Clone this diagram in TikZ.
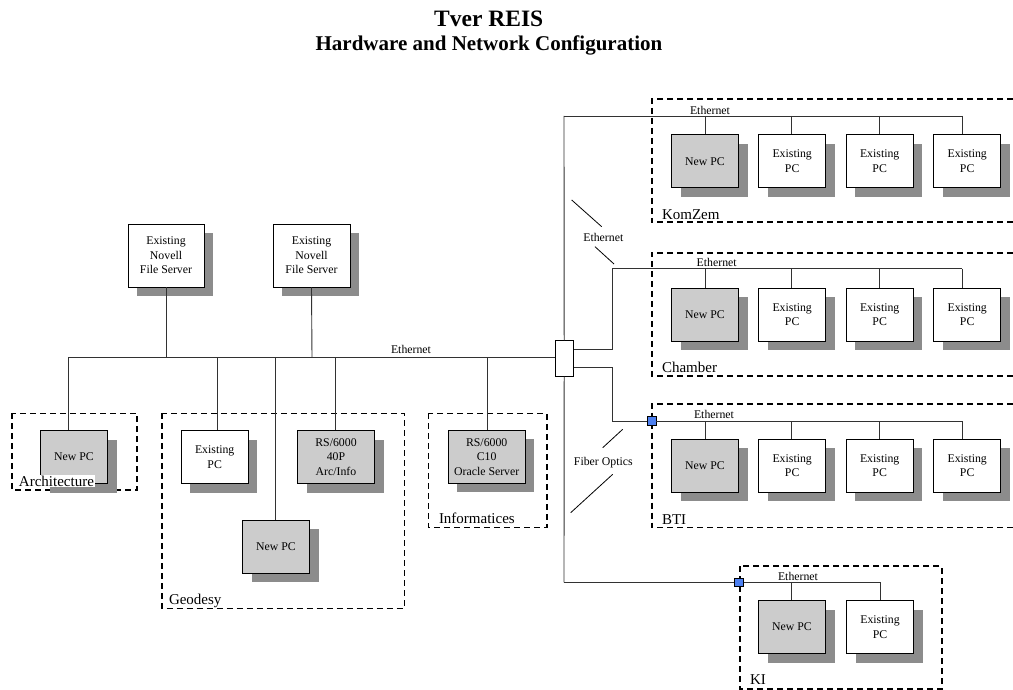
\documentclass[tikz,border=0pt]{standalone}
\usepackage{fontspec}
\setmainfont{Liberation Serif}
\usetikzlibrary{shadows}
\definecolor{shadowgray}{RGB}{140,140,140}
\definecolor{newgray}{RGB}{204,204,204}
\definecolor{linegray}{RGB}{50,50,50}
\definecolor{hubblue}{RGB}{77,128,240}
\newcommand{\boxfont}{\fontsize{11.8}{14.5}\selectfont}
\newcommand{\grpfont}{\fontsize{15}{18}\selectfont}
\tikzset{
  box/.style={draw=black, line width=0.9pt, fill=white, inner sep=0pt, align=center, font=\boxfont,
    copy shadow={shadow xshift=9pt, shadow yshift=-9pt, fill=shadowgray, draw=none}},
  newbox/.style={box, fill=newgray},
  pcsize/.style={minimum width=67pt, minimum height=53pt},
  widesize/.style={minimum width=77pt, minimum height=53pt},
  srvsize/.style={minimum width=76pt, minimum height=63pt},
  wire/.style={draw=linegray, line width=0.9pt},
  group/.style={draw=black, line width=1.6pt, dash pattern=on 6pt off 4pt},
  grplabel/.style={font=\grpfont, anchor=base west, inner sep=0.8pt, fill=white},
  netlabel/.style={font=\boxfont, inner sep=0pt},
  joint/.style={draw=black, fill=hubblue, line width=0.8pt, minimum size=8.5pt, inner sep=0pt},
}
\begin{document}
\begin{tikzpicture}[x=1pt,y=-1pt]
\useasboundingbox (0,0) rectangle (1013,690);
\fill[white] (0,0) rectangle (1013,690);

% title
\node[font=\bfseries\fontsize{23.5}{28}\selectfont, anchor=base, inner sep=0pt] (title) at (488.7,26.7) {Tver REIS};
\node[font=\bfseries\fontsize{21}{25}\selectfont, anchor=base, inner sep=0pt] (subtitle) at (489,51) {Hardware and Network Configuration};

% group frames
\draw[group] (11.7,413.3) rectangle (137,490);
\draw[group] (161.7,413.3) rectangle (404.3,608.3);
\draw[group] (428.3,413.3) rectangle (546.7,527.3);
\draw[group] (1013,99.3) -- (651.7,99.3) -- (651.7,222.3) -- (1013,222.3);
\draw[group] (1013,252.7) -- (651.7,252.7) -- (651.7,375.7) -- (1013,375.7);
\draw[group] (1013,404) -- (651.7,404) -- (651.7,527.3) -- (1013,527.3);
\draw[group] (740,566) rectangle (941.7,689);

% servers
\node[box, srvsize] (srv1) at (166,255.5) {Existing\\Novell\\File Server};
\node[box, srvsize, minimum width=77pt] (srv2) at (311.5,255.5) {Existing\\Novell\\File Server};

% left groups
\node[newbox, pcsize] (archpc) at (74,457) {New PC};
\node[box, pcsize] (geoex) at (214.7,457) {Existing\\PC};
\node[newbox, widesize] (geors) at (336,457) {RS/6000\\40P\\Arc/Info};
\node[newbox, pcsize] (geonew) at (276,546.7) {New PC};
\node[newbox, widesize] (infrs) at (486.7,456.7) {RS/6000\\C10\\Oracle Server};

% right groups
\foreach \g/\yc in {k/161.3, c/314.7, b/465.5}{
  \node[newbox, pcsize] (\g1) at (705,\yc) {New PC};
  \node[box, pcsize] (\g2) at (792.2,\yc) {Existing\\PC};
  \node[box, pcsize] (\g3) at (879.7,\yc) {Existing\\PC};
  \node[box, pcsize] (\g4) at (967.2,\yc) {Existing\\PC};
}
\node[newbox, pcsize] (ki1) at (792,627) {New PC};
\node[box, pcsize] (ki2) at (880,627) {Existing\\PC};

% group labels
\node[grplabel] (lArch) at (18,486.5) {Architecture};
\node[grplabel] (lGeo) at (168,604) {Geodesy};
\node[grplabel] (lInf) at (438,523.5) {Informatices};
\node[grplabel] (lKom) at (661,219) {KomZem};
\node[grplabel] (lCha) at (661,372.5) {Chamber};
\node[grplabel] (lBti) at (661,524) {BTI};
\node[grplabel] (lKi) at (749,684) {KI};

% hub
\node[draw=black, fill=white, line width=0.9pt, minimum width=18.3pt, minimum height=35.3pt, inner sep=0pt] (hub) at (564.2,358.4) {};

% main bus
\coordinate (mbL) at (68,357.5);
\draw[wire] (mbL) -- (hub.west |- mbL);
\draw[wire] (166,357.5) -- (srv1.south);
\draw[wire] (312,357.5) -- (srv2.south);
\draw[wire] (mbL) -- (mbL |- archpc.north);
\draw[wire] (217,357.5) -- (217,0 |- geoex.north);
\draw[wire] (275,357.5) -- (275,0 |- geonew.north);
\draw[wire] (335,357.5) -- (335,0 |- geors.north);
\draw[wire] (487,357.5) -- (487,0 |- infrs.north);
\node[netlabel] (ethMain) at (411,349) {Ethernet};

% backbone
\coordinate (kbL) at (564,116);
\coordinate (kiL) at (564,582.3);
\draw[wire] (hub.north) -- (kbL);
\draw[wire] (hub.south) -- (kiL);

% KomZem bus
\draw[wire] (kbL) -- (962,116);
\foreach \x/\n in {705/k1, 791.7/k2, 879.3/k3, 962/k4}
  \draw[wire] (\x,116) -- (\x,0 |- \n.north);
\node[netlabel] (ethK) at (710,110) {Ethernet};

% Chamber bus
\coordinate (cbL) at (612.7,268.5);
\draw[wire] (hub.east |- 0,349.3) -| (cbL) -- (962,268.5);
\foreach \x/\n in {705/c1, 791.7/c2, 879.3/c3, 962/c4}
  \draw[wire] (\x,268.5) -- (\x,0 |- \n.north);
\node[netlabel] (ethC) at (716.7,262.3) {Ethernet};

% BTI bus
\node[joint] (jb) at (651.7,421) {};
\draw[wire] (hub.east |- 0,367.3) -| (612.7,421) -- (jb.west);
\draw[wire] (jb.east) -- (962,421);
\foreach \x/\n in {705/b1, 791.7/b2, 879.3/b3, 962/b4}
  \draw[wire] (\x,421) -- (\x,0 |- \n.north);
\node[netlabel] (ethB) at (714,414) {Ethernet};

% KI bus
\node[joint] (jk) at (739,582.3) {};
\draw[wire] (kiL) -- (jk.west);
\draw[wire] (jk.east) -- (880,582.3);
\draw[wire] (791.7,582.3) -- (791.7,0 |- ki1.north);
\draw[wire] (880,582.3) -- (ki2.north);
\node[netlabel] (ethKI) at (798,576) {Ethernet};

% annotation: Ethernet (diagonal)
\node[netlabel] (ethDiag) at (603.3,237.7) {Ethernet};
\draw[black, line width=0.8pt] (571.7,200) -- (601.7,226.7);
\draw[black, line width=0.8pt] (595,246.7) -- (614,264);

% annotation: Fiber Optics
\node[netlabel] (fiber) at (603.3,462.3) {Fiber Optics};
\draw[black, line width=0.8pt] (622.7,429.3) -- (602.7,447.7);
\draw[black, line width=0.8pt] (612.7,474.3) -- (570.7,512.7);
\end{tikzpicture}
\end{document}
